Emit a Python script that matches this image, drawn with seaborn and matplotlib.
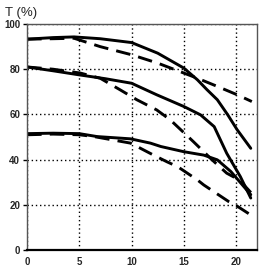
import matplotlib
matplotlib.use('Agg')
import matplotlib.pyplot as plt
import seaborn as sns
import pandas as pd

# values (x: 0-22, T in %)
top_solid_x = [0, 2.5, 4.5, 7, 10, 12.5, 15, 16.3, 17.2, 18.2, 19.2, 20.1, 21.4]
top_solid_y = [93.3, 94, 94.3, 93.5, 91.8, 87.1, 80.5, 75.3, 71, 66.5, 59.8, 53.2, 45]

top_dash_x = [0, 2.5, 4.5, 7, 10, 12.5, 15, 16.3, 18.2, 20.1, 21.5]
top_dash_y = [93.3, 93.5, 93.7, 90, 86.4, 82.7, 78.3, 76, 72.4, 68.7, 65.7]

mid_solid_x = [0, 2.5, 5, 7.5, 10, 12.4, 15, 16.6, 17.9, 19.1, 20.4, 21.4]
mid_solid_y = [81, 79.3, 77.5, 75.8, 73.8, 68.7, 63.5, 59.8, 54.6, 42.8, 32.5, 23]

mid_dash_x = [0, 2.5, 5.1, 7, 8.9, 10.5, 12.4, 13.7, 15.9, 17.7, 19.1, 20.3, 21.5]
mid_dash_y = [81, 80, 78.3, 76, 70.9, 66.5, 62, 57.6, 48, 39.9, 34, 31, 25]

low_solid_x = [0, 2.5, 5, 6.7, 9.9, 11.8, 12.8, 15, 16.9, 18.2, 19.5, 21.4]
low_solid_y = [51.5, 51.7, 51.5, 50.2, 49.2, 47.3, 45.8, 43.5, 42, 39.9, 34.7, 24.5]

low_dash_x = [0, 2.5, 5, 6.4, 9.9, 12.1, 13.4, 14.4, 16.3, 16.9, 19.3, 19.9, 21.4]
low_dash_y = [51, 51.3, 51, 50.2, 47.3, 42, 39, 36.9, 31, 28.8, 21.4, 20, 15.5]

x_ticks = [0, 5, 10, 15, 20]
y_ticks = [0, 20, 40, 60, 80, 100]

series = [
    (top_solid_x, top_solid_y, '-'),
    (top_dash_x, top_dash_y, (0, (5, 2.8))),
    (mid_solid_x, mid_solid_y, '-'),
    (mid_dash_x, mid_dash_y, (0, (5, 2.8))),
    (low_solid_x, low_solid_y, '-'),
    (low_dash_x, low_dash_y, (0, (5, 2.8))),
]

sns.set_style('white')
plt.rcParams['font.family'] = ['Liberation Sans', 'DejaVu Sans']

fig = plt.figure(figsize=(2.65, 2.70), dpi=100)
ax = fig.add_axes([0.102, 0.074, 0.868, 0.837])

for xs, ys, ls in series:
    df = pd.DataFrame({'x': xs, 'y': ys})
    sns.lineplot(data=df, x='x', y='y', ax=ax, color='black', linewidth=2.1,
                 linestyle=ls, sort=False, estimator=None)

ax.set_xlim(0, 22)
ax.set_ylim(0, 100)
ax.set_xticks(x_ticks)
ax.set_yticks(y_ticks)
ax.set_xlabel('')
ax.set_ylabel('')
ax.grid(True, color='black', linestyle=(0, (1, 2)), linewidth=1)
ax.set_axisbelow(True)

for lab in ax.get_xticklabels() + ax.get_yticklabels():
    lab.set_fontweight('bold')
    lab.set_fontsize(7)
ax.tick_params(axis='y', length=3, width=1, color='black', pad=2, left=True)
ax.tick_params(axis='x', length=0, pad=5, bottom=True)

for side in ['top', 'right', 'left']:
    ax.spines[side].set_color('#555555')
    ax.spines[side].set_linewidth(1)
ax.spines['bottom'].set_color('black')
ax.spines['bottom'].set_linewidth(1.6)

fig.text(0.02, 0.952, 'T (%)', fontsize=9.5, ha='left', va='center')

fig.savefig('out.png', dpi=100)
